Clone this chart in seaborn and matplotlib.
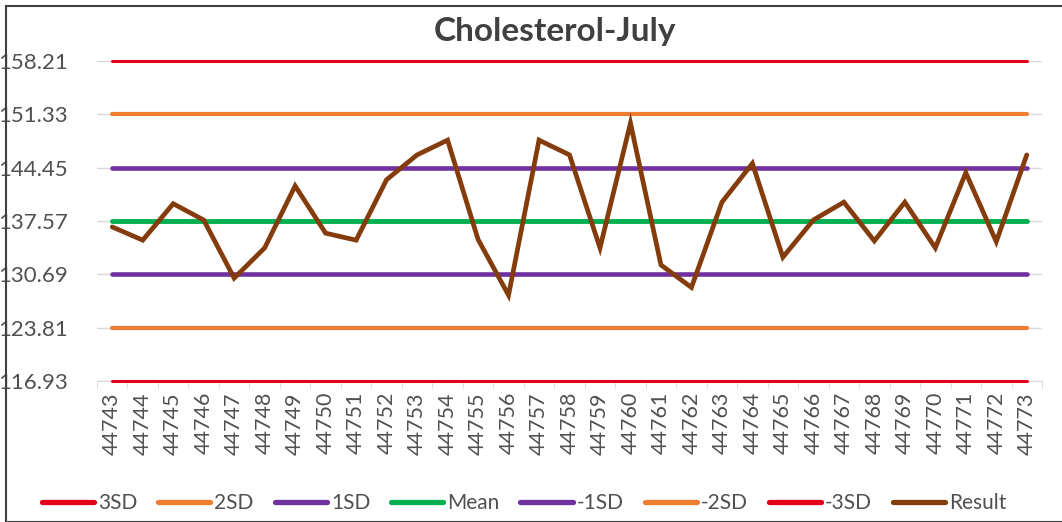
import numpy as np
import pandas as pd
import matplotlib.pyplot as plt
import seaborn as sns
from matplotlib.patches import Rectangle

# Datos del gráfico de control
days = list(range(44743, 44774))
result = [136.8, 135.1, 139.8, 137.7, 130.2, 134.1, 142.1, 136.0, 135.1, 142.9,
          146.1, 148.0, 135.2, 128.0, 148.0, 146.1, 134.1, 150.2, 131.9, 129.0,
          140.0, 145.0, 132.9, 137.7, 140.0, 135.0, 140.0, 134.1, 143.8, 134.9,
          146.1]
mean_val = 137.57
sd_val = 6.88
limit_names = ["3SD", "2SD", "1SD", "Mean", "-1SD", "-2SD", "-3SD"]
limit_mult = [3, 2, 1, 0, -1, -2, -3]
limit_colors = ["#E3001B", "#ED7D31", "#7030A0", "#00B050", "#7030A0", "#ED7D31", "#E3001B"]
limit_widths = [2.2, 3.0, 3.3, 3.5, 3.3, 3.0, 2.2]
yticks = [116.93, 123.81, 130.69, 137.57, 144.45, 151.33, 158.21]

sns.set_style("white")
plt.rcParams['font.family'] = ['Lato', 'DejaVu Sans']

fig = plt.figure(figsize=(10.62, 5.22), dpi=100)
ax = fig.add_axes([97 / 1062, 141 / 522, 945 / 1062, 320 / 522])

x = np.arange(len(days))
for name, m, c, w in zip(limit_names, limit_mult, limit_colors, limit_widths):
    vals = [round(mean_val + m * sd_val, 2)] * len(days)
    sns.lineplot(x=x, y=vals, ax=ax, color=c, linewidth=w, label=name,
                 solid_capstyle="round", clip_on=False, zorder=3)

sns.lineplot(x=x, y=result, ax=ax, color="#843C0C", linewidth=3.4, label="Result",
             solid_capstyle="round", solid_joinstyle="miter", clip_on=False, zorder=4)

ax.set_xlim(-0.5, len(days) - 0.5)
ax.set_ylim(116.93, 158.21)
ax.set_yticks(yticks)
ax.set_yticklabels([f"{v:.2f}" for v in yticks], fontsize=16, color="#505050")
ax.set_xticks(x)
ax.set_xticklabels([str(d) for d in days], rotation=90, fontsize=15.5, color="#505050")
ax.set_xticks(np.arange(-0.5, len(days)), minor=True)
ax.tick_params(axis="x", which="major", length=0, pad=8)
ax.tick_params(axis="x", which="minor", length=5, color="#D9D9D9", direction="out", bottom=True)
ax.tick_params(axis="y", length=0, pad=21)
ax.grid(axis="y", color="#D9D9D9", linewidth=1)
ax.grid(axis="x", visible=False)
for s in ["top", "right", "left"]:
    ax.spines[s].set_visible(False)
ax.spines["bottom"].set_color("#D9D9D9")

fig.text(555 / 1062, 1 - 31 / 522, "Cholesterol-July", ha="center", va="center",
         fontsize=24, fontweight="bold", color="#404040")

leg = ax.legend(loc="center", bbox_to_anchor=(524 / 1062, 1 - 503 / 522),
                bbox_transform=fig.transFigure, ncol=8, frameon=False, fontsize=15,
                handlelength=2.5, columnspacing=1.0, handletextpad=0.2,
                labelcolor="#505050")
for h in leg.get_lines():
    h.set_linewidth(3.8)

fig.patches.append(Rectangle((6 / 1062, 0), 1.2, 1 - 6 / 522, transform=fig.transFigure,
                             fill=False, edgecolor="#404040", linewidth=1.5))

fig.savefig("out.png", dpi=100)
